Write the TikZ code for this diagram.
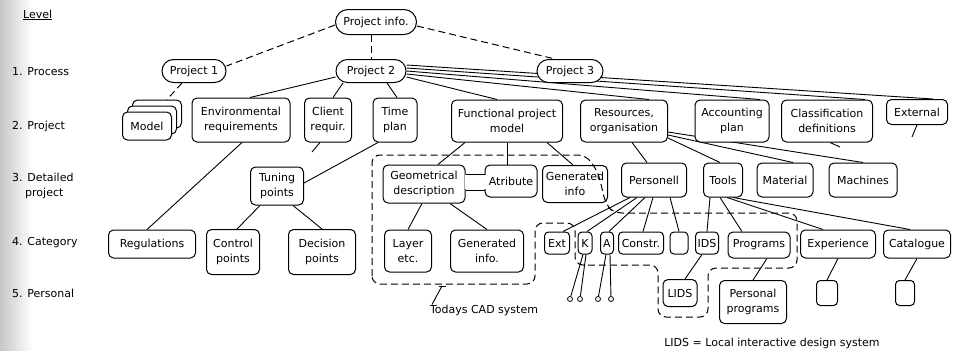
\documentclass[tikz,border=0pt]{standalone}
\usepackage{fontspec}
\setmainfont{DejaVu Sans}
\usetikzlibrary{shapes.misc,calc}
\pgfdeclarelayer{bg}
\pgfsetlayers{bg,main}
\begin{document}
\begin{tikzpicture}[x=1pt,y=-1pt,
  txt/.style={font=\fontsize{11}{15}\selectfont},
  box/.style={txt, draw, rounded corners=5pt, fill=white, line width=1pt, align=center, inner sep=1pt},
  pill/.style={txt, draw, rounded rectangle, fill=white, line width=1pt, inner sep=2pt, minimum height=23pt},
  conn/.style={line width=0.9pt},
  dconn/.style={line width=1pt, dash pattern=on 7pt off 4pt},
  lab/.style={txt, anchor=west, inner sep=0pt, align=left},
  dot/.style={circle, draw, fill=white, line width=0.8pt, minimum size=5pt, inner sep=0pt}
]
\useasboundingbox (0,0) rectangle (962,351);
\shade[left color=gray!45, right color=white] (0,0) rectangle (32,351);

% level labels
\node[lab] (lvl) at (23,15) {\underline{Level}};
\node[lab] (l1) at (12,72) {1. Process};
\node[lab] (l2) at (12,126) {2. Project};
\node[lab] (l3) at (12,177) {3. Detailed};
\node[lab] (l3b) at (25,193) {project};
\node[lab] (l4) at (12,243) {4. Category};
\node[lab] (l5) at (12,293) {5. Personal};

% top level
\node[pill, minimum width=85pt, minimum height=25pt] (pinfo) at (376,22) {Project info.};
\node[pill, minimum width=68pt] (p1) at (194,71) {Project 1};
\node[pill, minimum width=74pt] (p2) at (371,71) {Project 2};
\node[pill, minimum width=70pt] (p3) at (570,71) {Project 3};

% level 2
\node[box, minimum width=49pt, minimum height=28pt] (model3) at (157,114) {};
\node[box, minimum width=49pt, minimum height=28pt] (model2) at (152,120) {};
\node[box, minimum width=49pt, minimum height=28pt] (model) at (147,126) {Model};
\node[box, minimum width=98pt, minimum height=44pt] (env) at (241,120) {Environmental\\requirements};
\node[box, minimum width=47pt, minimum height=44pt] (client) at (328,120) {Client\\requir.};
\node[box, minimum width=44pt, minimum height=44pt] (time) at (395,120) {Time\\plan};
\node[box, minimum width=111pt, minimum height=42pt] (func) at (507,121) {Functional project\\model};
\node[box, minimum width=87pt, minimum height=42pt] (res) at (624,121) {Resources,\\organisation};
\node[box, minimum width=74pt, minimum height=42pt] (acc) at (732,121) {Accounting\\plan};
\node[box, minimum width=91pt, minimum height=42pt] (class) at (827,121) {Classification\\definitions};
\node[box, minimum width=61pt, minimum height=25pt] (ext) at (917,112) {External};

% level 3
\node[box, minimum width=53pt, minimum height=38pt] (tuning) at (277,186) {Tuning\\points};
\node[box, minimum width=82pt, minimum height=38pt] (geom) at (424,184) {Geometrical\\description};
\node[box, minimum width=52pt, minimum height=32pt] (atr) at (511,181) {Atribute};
\node[box, minimum width=65pt, minimum height=37pt] (gen3) at (575,184) {Generated\\info};
\node[box, minimum width=65pt, minimum height=34pt] (pers) at (654,180) {Personell};
\node[box, minimum width=39pt, minimum height=34pt] (tools) at (723,180) {Tools};
\node[box, minimum width=56pt, minimum height=34pt] (mat) at (785,180) {Material};
\node[box, minimum width=68pt, minimum height=34pt] (mach) at (863,180) {Machines};

% level 4
\node[box, minimum width=87pt, minimum height=28pt] (regs) at (152,244) {Regulations};
\node[box, minimum width=53pt, minimum height=45pt] (control) at (233,252) {Control\\points};
\node[box, minimum width=67pt, minimum height=45pt] (decision) at (322,252) {Decision\\points};
\node[box, minimum width=47pt, minimum height=42pt] (layer) at (408,251) {Layer\\etc.};
\node[box, minimum width=73pt, minimum height=42pt] (gen4) at (487,251) {Generated\\info.};
\node[box, minimum width=25pt, minimum height=22pt, rounded corners=4pt] (ext4) at (557,243) {Ext};
\node[box, minimum width=14pt, minimum height=22pt, rounded corners=4pt] (kk) at (585,243) {K};
\node[box, minimum width=13pt, minimum height=22pt, rounded corners=4pt] (aa) at (607,243) {A};
\node[box, minimum width=45pt, minimum height=22pt, rounded corners=4pt] (constr) at (641,243) {Constr.};
\node[box, minimum width=18pt, minimum height=22pt, rounded corners=4pt] (emp4) at (679,243) {};
\node[box, minimum width=23pt, minimum height=22pt, rounded corners=4pt] (ids) at (707,243) {IDS};
\node[box, minimum width=62pt, minimum height=26pt] (prog) at (759,245) {Programs};
\node[box, minimum width=75pt, minimum height=28pt] (expe) at (838,244) {Experience};
\node[box, minimum width=67pt, minimum height=28pt] (cata) at (917,244) {Catalogue};

% level 5
\node[box, minimum width=34pt, minimum height=27pt] (lids) at (680,293) {LIDS};
\node[box, minimum width=67pt, minimum height=43pt] (pprog) at (753,302) {Personal\\programs};
\node[box, minimum width=21pt, minimum height=25pt, rounded corners=4pt] (emp5a) at (827,293) {};
\node[box, minimum width=19pt, minimum height=25pt, rounded corners=4pt] (emp5b) at (905,293) {};
\node[dot] (c1) at (570,299) {};
\node[dot] (c2) at (580,299) {};
\node[dot] (c3) at (598,299) {};
\node[dot] (c4) at (611,299) {};

% texts
\node[txt, inner sep=0pt] (cad) at (484,310) {Todays CAD system};
\node[txt, inner sep=0pt] (note) at (772,343) {LIDS = Local interactive design system};

% free ends
\coordinate (cstub) at (312,152);
\coordinate (estub) at (912,137);
\coordinate (clstub) at (840,147);
\coordinate (cadpt) at (442,286);

\begin{pgfonlayer}{bg}
% dashed links
\draw[dconn] ([yshift=-3pt]pinfo.west) -- ([yshift=5pt]p1.east);
\draw[dconn] ([yshift=-4pt]pinfo.east) -- ([xshift=-15pt]p3.north);
\draw[dconn] (p2.north |- pinfo.south) -- (p2.north);
\draw[dconn] ([xshift=-12pt]p1.south) -- ([xshift=10pt]model3.north);
% project 2
\draw[conn] ([yshift=-6pt]p2.west) -- ([xshift=9pt]env.north);
\draw[conn] ([xshift=-28pt]p2.south) -- ([xshift=5pt]client.north);
\draw[conn] ([xshift=16pt]p2.south) -- ([xshift=2pt]time.north);
\draw[conn] ([yshift=-6pt]p2.east) -- ([xshift=-10pt]func.north);
\draw[conn] ([yshift=-3pt]p2.east) -- ([xshift=25pt]res.north);
\draw[conn] (p2.east) -- ([xshift=28pt]acc.north);
\draw[conn] ([yshift=3pt]p2.east) -- ([xshift=38pt]class.north);
\draw[conn] ([yshift=6pt]p2.east) -- ([xshift=16pt]ext.north);
% level 2 -> 3
\draw[conn] ([xshift=1pt]env.south) -- ([xshift=-5pt]regs.north);
\draw[conn] ([xshift=-8pt]client.south) -- (cstub);
\draw[conn] ([xshift=-17pt]time.south) -- ([yshift=3pt]tuning.east);
\draw[conn] ([xshift=-42pt]func.south) -- ([xshift=14pt]geom.north);
\draw[conn] (func.south) -- (func.south |- atr.north);
\draw[conn] ([xshift=40pt]func.south) -- ([xshift=-2pt]gen3.north);
\draw[conn] ([xshift=8pt]res.south) -- ([xshift=-7pt]pers.north);
\draw[conn] ([yshift=-17pt]res.east) -- ([xshift=-3pt]tools.north);
\draw[conn] ([yshift=-14pt]res.east) -- ([xshift=8pt]mat.north);
\draw[conn] ([yshift=-11pt]res.east) -- (mach.north);
\draw[conn] ([xshift=3pt]class.south) -- (clstub);
\draw[conn] (ext.south) -- (estub);
% level 3 -> 4
\draw[conn] ([xshift=-17pt]tuning.south) -- ([xshift=4pt]control.north);
\draw[conn] ([xshift=16pt]tuning.south) -- (decision.north);
\draw[conn] ([xshift=-2pt]geom.south) -- (layer.north);
\draw[conn] ([xshift=26pt]geom.south) -- (gen4.north);
\draw[conn] ([xshift=-24pt]pers.south) -- ([xshift=6pt]ext4.north);
\draw[conn] ([xshift=-17pt]pers.south) -- ([xshift=2pt]kk.north);
\draw[conn] ([xshift=-9pt]pers.south) -- ([xshift=2pt]aa.north);
\draw[conn] ([xshift=-1pt]pers.south) -- ([xshift=2pt]constr.north);
\draw[conn] ([xshift=16pt]pers.south) -- (emp4.north);
\draw[conn] ([xshift=-13pt]tools.south) -- (ids.north);
\draw[conn] ([xshift=-3pt]tools.south) -- ([xshift=-17pt]prog.north);
\draw[conn] ([xshift=4pt]tools.south) -- ([xshift=-15pt]expe.north);
\draw[conn] ([xshift=10pt]tools.south) -- ([xshift=-7pt]cata.north);
% level 4 -> 5
\draw[conn] ([xshift=-5pt]ids.south) -- ([xshift=5pt]lids.north);
\draw[conn] ([xshift=8pt]prog.south) -- (pprog.north);
\draw[conn] (expe.south) -- (emp5a.north);
\draw[conn] (cata.south) -- (emp5b.north);
\draw[conn] ([xshift=-2pt]kk.south) -- (c1);
\draw[conn] ([xshift=1pt]kk.south) -- (c2);
\draw[conn] ([xshift=-1pt]aa.south) -- (c3);
\draw[conn] ([xshift=3pt]aa.south) -- (c4);
\end{pgfonlayer}

% neck between Geometrical description and Atribute
\fill[white] ($(geom.east)+(-1,-9)$) rectangle ($(atr.west)+(1,8)$);
\draw[line width=1pt] ($(geom.east)+(0,-10)$) -- ($(atr.west)+(0,-7)$);
\draw[line width=1pt] ($(geom.east)+(0,6)$) -- ($(atr.west)+(0,9)$);

% Todays CAD system boundary
\draw[dconn, rounded corners=8pt] (372,284) -- (372,155) -- (586,155) -- (598,172) -- (606,205) -- (614,213) -- (797,213) -- (797,268) -- (708,268) -- (708,317) -- (658,317) -- (658,265) -- (575,265) -- (575,223) -- (535,223) -- (535,284) -- cycle;
\draw[conn] ([xshift=-52pt]cad.north) -- (cadpt);
\draw[conn] ($(cadpt)+(-3,0)$) -- ($(cadpt)+(4,0)$);
\end{tikzpicture}
\end{document}
